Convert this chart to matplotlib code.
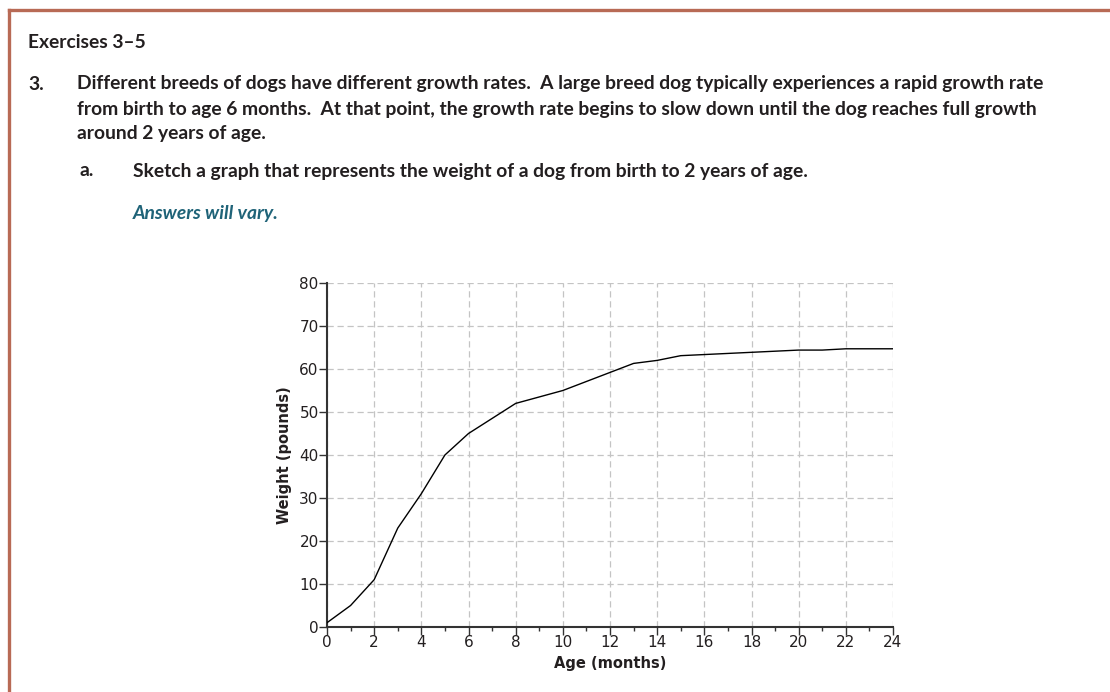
import matplotlib.pyplot as plt
from matplotlib.lines import Line2D
from matplotlib.ticker import MultipleLocator

# values
age_months = [0, 1, 2, 3, 4, 5, 6, 7, 8, 9, 10, 13, 14, 15, 20, 21, 22, 24]
weight_lb = [1, 5, 11, 23, 31, 40, 45, 48.5, 52, 53.5, 55, 61.3, 62, 63.1, 64.4, 64.4, 64.7, 64.7]

x_ticks = list(range(0, 25, 2))
y_ticks = list(range(0, 81, 10))

body = [
    "Different breeds of dogs have different growth rates.  A large breed dog typically experiences a rapid growth rate",
    "from birth to age 6 months.  At that point, the growth rate begins to slow down until the dog reaches full growth",
    "around 2 years of age.",
]

W, H = 1110, 692
fig = plt.figure(figsize=(W / 100, H / 100), dpi=100)
txt_font = ["Lato", "DejaVu Sans"]
ink = "#231f20"

# brown frame, top and left edges
border = "#b86a55"
fig.add_artist(Line2D([8.5 / W, 1], [1 - 9.5 / H, 1 - 9.5 / H], color=border, lw=2.4))
fig.add_artist(Line2D([8.5 / W, 8.5 / W], [0, 1 - 9.5 / H], color=border, lw=2.4))

def put(x, y, s, color=ink, **kw):
    fig.text(x / W, 1 - y / H, s, va="center", ha="left", family=txt_font,
             fontsize=13.85, fontweight="bold", color=color, **kw)

put(28, 42, "Exercises 3\u20135")
put(28, 84, "3.")
for i, line in enumerate(body):
    put(77, 84 + 25 * i, line)
put(80, 171, "a.")
put(133, 171, "Sketch a graph that represents the weight of a dog from birth to 2 years of age.")
put(133, 213, "Answers will vary.", color="#1f6378", style="italic")

# chart area
x0, x1, y0, y1 = 327, 893, 283, 627
ax = fig.add_axes([x0 / W, 1 - y1 / H, (x1 - x0) / W, (y1 - y0) / H])
ax.plot(age_months, weight_lb, color="black", lw=1.0, zorder=3)
ax.set_xlim(0, 24)
ax.set_ylim(0, 80)
ax.set_xticks(x_ticks)
ax.set_yticks(y_ticks)
ax.xaxis.set_minor_locator(MultipleLocator(1))
ax.grid(True, which="major", color="#c4c4c4", ls=(0, (5, 3)), lw=0.9)
for s in ["top", "right"]:
    ax.spines[s].set_visible(False)
for s in ["left", "bottom"]:
    ax.spines[s].set_color("#333333")
    ax.spines[s].set_linewidth(1.5)
ax.tick_params(which="major", direction="out", length=5.5, width=1, color="#333333",
               labelsize=11, labelcolor=ink, pad=0.5)
ax.tick_params(which="minor", direction="out", length=3, width=1, color="#333333")
ax.set_xlabel("Age (months)", fontsize=10.5, fontweight="bold", labelpad=4, color=ink)
ax.set_ylabel("Weight (pounds)", fontsize=10.5, fontweight="bold", labelpad=5, color=ink)
ax.set_axisbelow(True)

fig.savefig("out.png", dpi=100)
